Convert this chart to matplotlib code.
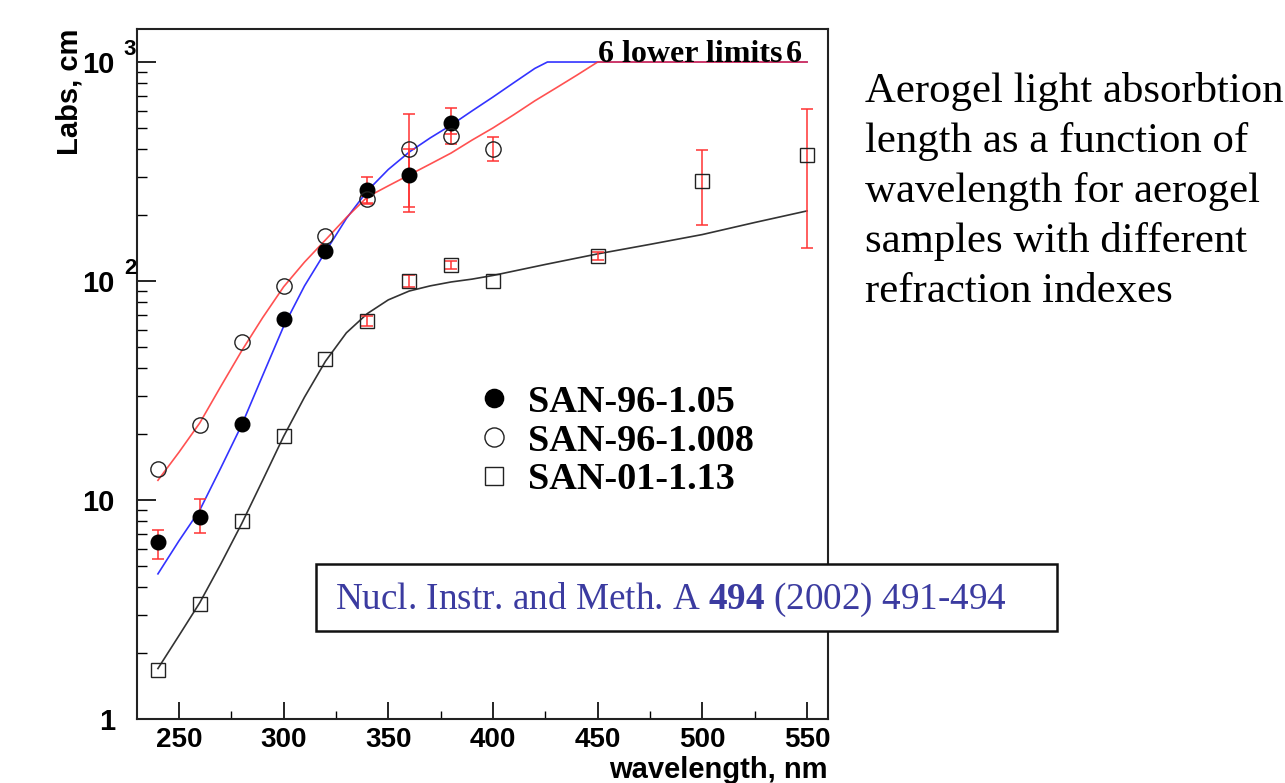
import numpy as np
import matplotlib.pyplot as plt
from matplotlib.patches import Rectangle
from matplotlib.ticker import FixedLocator, LogLocator, NullFormatter, MultipleLocator
from matplotlib.transforms import blended_transform_factory

plt.rcParams['mathtext.fontset'] = 'custom'
plt.rcParams['mathtext.rm'] = 'Liberation Serif'
plt.rcParams['mathtext.bf'] = 'Liberation Serif:bold'

# --- measured points ---
wl_105 = [240, 260, 280, 300, 320, 340, 360, 380]
labs_105 = [6.4, 8.4, 22.2, 67, 137, 260, 305, 527]
lo_105 = [5.4, 7.1, 22.2, 67, 137, 225, 207, 470]
hi_105 = [7.3, 10.1, 22.2, 67, 137, 298, 400, 617]

wl_1008 = [240, 260, 280, 300, 320, 340, 360, 380, 400]
labs_1008 = [13.9, 22, 52.7, 95, 160, 236, 400, 459, 401]
lo_1008 = [13.9, 22, 52.7, 95, 160, 228, 218, 422, 353]
hi_1008 = [13.9, 22, 52.7, 95, 160, 245, 579, 500, 453]

wl_113 = [240, 260, 280, 300, 320, 340, 360, 380, 400, 450, 500, 550]
labs_113 = [1.67, 3.35, 8.0, 19.6, 44, 65.7, 100, 118, 100, 130, 286, 376]
lo_113 = [1.67, 3.35, 8.0, 19.6, 44, 62, 94, 113, 100, 125, 180, 141]
hi_113 = [1.67, 3.35, 8.0, 19.6, 44, 69, 107, 123, 100, 135, 397, 610]

# --- fitted curves ---
fit_red_wl = [240, 250, 260, 270, 280, 290, 300, 310, 320, 330, 340, 350, 360,
              370, 380, 390, 400, 410, 420, 430, 440, 450, 550]
fit_red = [12.3, 16.5, 22.5, 33, 48, 68, 94, 122, 154, 195, 242, 272, 305,
           342, 384, 440, 500, 575, 665, 760, 870, 1000, 1000]

fit_blue_wl = [240, 250, 260, 270, 280, 290, 300, 310, 320, 330, 340, 350, 360,
               370, 380, 390, 400, 410, 420, 426, 550]
fit_blue = [4.6, 6.5, 9.0, 14, 22, 37, 62, 95, 136, 193, 258, 323, 388,
            450, 515, 598, 692, 805, 935, 1000, 1000]

fit_black_wl = [240, 250, 260, 270, 280, 290, 300, 310, 320, 330, 340, 350, 360,
                370, 380, 390, 400, 425, 450, 475, 500, 525, 550]
fit_black = [1.7, 2.4, 3.4, 5.1, 7.8, 12.3, 19.5, 29.5, 43, 58, 71, 82, 90,
             95, 99, 102, 106, 119, 133, 147, 163, 185, 209]

labels = ['SAN-96-1.05', 'SAN-96-1.008', 'SAN-01-1.13']

desc_lines = ['Aerogel light absorbtion', 'length as a function of',
              'wavelength for aerogel', 'samples with different',
              'refraction indexes']

W, H = 1285, 783
fig = plt.figure(figsize=(W / 100, H / 100), dpi=100)
ax = fig.add_axes([137 / W, 1 - 719 / H, (828 - 137) / W, (719 - 29) / H])

ax.plot(fit_black_wl, fit_black, color='#333333', lw=1.2, zorder=2)
ax.plot(fit_blue_wl, fit_blue, color='#3333ff', lw=1.2, zorder=2)
ax.plot(fit_red_wl, fit_red, color='#ff3333', lw=1.2, alpha=0.85, zorder=2)


def draw(wl, y, lo, hi, **mk):
    wl, y, lo, hi = map(np.asarray, (wl, y, lo, hi))
    m = hi > lo
    ax.errorbar(wl[m], y[m], yerr=[y[m] - lo[m], hi[m] - y[m]], fmt='none',
                ecolor='#ff3333', elinewidth=1.1, capsize=4.3, capthick=1.1,
                zorder=3)
    return ax.plot(wl, y, ls='none', zorder=4, **mk)[0]


h1 = draw(wl_105, labs_105, lo_105, hi_105, marker='o', ms=10.5,
          mfc='black', mec='black')
h2 = draw(wl_1008, labs_1008, lo_1008, hi_1008, marker='o', ms=11,
          mfc='none', mec='#222222', mew=1.0)
h3 = draw(wl_113, labs_113, lo_113, hi_113, marker='s', ms=10.5,
          mfc='none', mec='#222222', mew=1.0)

ax.set_yscale('log')
ax.set_xlim(230, 560)
ax.set_ylim(1, 1415)

ax.xaxis.set_major_locator(MultipleLocator(50))
ax.xaxis.set_minor_locator(MultipleLocator(25))
ax.yaxis.set_major_locator(FixedLocator([1, 10, 100, 1000]))
ax.yaxis.set_minor_locator(LogLocator(base=10, subs=np.arange(2, 10)))
ax.yaxis.set_minor_formatter(NullFormatter())
ax.set_yticklabels(['1', '10', '10', '10'])

sans = 'Liberation Sans'
ax.tick_params(axis='both', which='both', direction='in', top=False, right=False)
ax.tick_params(axis='y', which='major', length=14, width=1.2, pad=16)
ax.tick_params(axis='y', which='minor', length=7, width=1.0)
ax.tick_params(axis='x', which='major', length=12, width=1.2, pad=6)
ax.tick_params(axis='x', which='minor', length=6, width=1.0)
for lab in ax.get_xticklabels():
    lab.set_fontfamily(sans)
    lab.set_fontweight('bold')
    lab.set_fontsize(20)
for lab in ax.get_yticklabels():
    lab.set_fontfamily(sans)
    lab.set_fontweight('bold')
    lab.set_fontsize(21)

for sp in ax.spines.values():
    sp.set_linewidth(1.5)
    sp.set_color('#222222')

# exponents of the y tick labels
tr = blended_transform_factory(ax.transAxes, ax.transData)
for val, ex in [(100, '2'), (1000, '3')]:
    ax.text(-0.001, val * 1.14, ex, transform=tr, ha='right', va='center',
            fontsize=16, fontweight='bold', family=sans)

ax.set_xlabel('wavelength, nm', loc='right', fontsize=21, fontweight='bold',
              family=sans, labelpad=2)
ax.set_ylabel('Labs, cm', loc='top', fontsize=21, fontweight='bold',
              family=sans)
ax.yaxis.set_label_coords(-0.077, 1.0)

ax.text(450, 1000, '6 lower limits', ha='left', va='baseline', fontsize=23,
        fontweight='bold', family='Liberation Serif', zorder=5)
ax.text(540, 1000, '6', ha='left', va='baseline', fontsize=23,
        fontweight='bold', family='Liberation Serif', zorder=5)

ax.legend([h1, h2, h3], labels, loc='upper left', bbox_to_anchor=(0.461, 0.512),
          frameon=False, markerscale=1.25, handlelength=1.0, handletextpad=0.4,
          labelspacing=0.1, borderpad=0,
          prop={'family': 'Liberation Serif', 'weight': 'bold', 'size': 27.5})

for i, line in enumerate(desc_lines):
    fig.text(865 / W, 1 - (102 + 50 * i) / H, line, ha='left', va='baseline',
             fontsize=30.8, family='Liberation Serif')

box = Rectangle((316 / W, 1 - 631 / H), (1057 - 316) / W, (631 - 564) / H,
                transform=fig.transFigure, facecolor='white', edgecolor='#111111',
                lw=1.8, zorder=10)
fig.patches.append(box)
fig.text(335 / W, 1 - 609 / H, r'Nucl. Instr. and Meth. A $\mathbf{494}$ (2002) 491-494',
         ha='left', va='baseline', fontsize=26.7, family='Liberation Serif',
         color='#3b3ba0', zorder=11)

fig.savefig('out.png', dpi=100)
